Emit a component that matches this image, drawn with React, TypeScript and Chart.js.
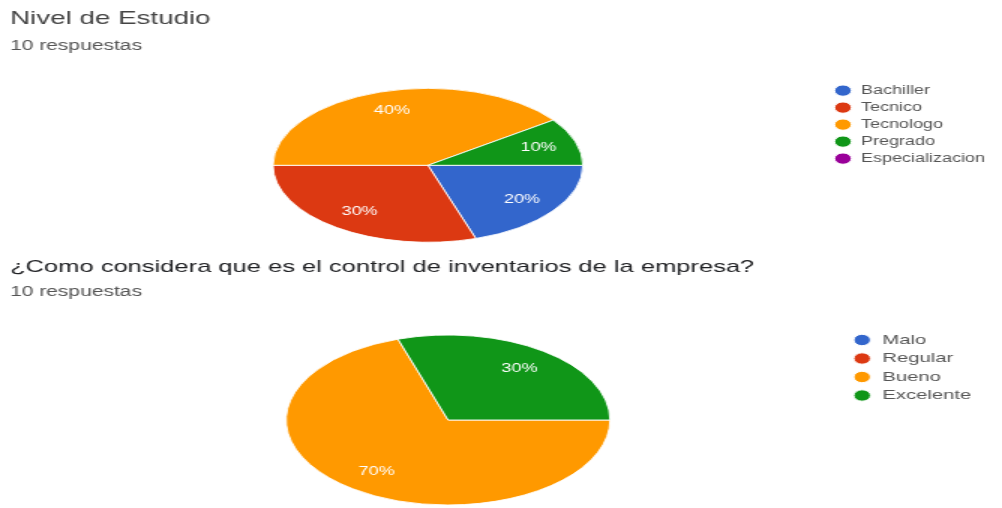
import React, { useEffect, useRef } from 'react';
import { Chart, registerables, layouts } from 'chart.js';

Chart.register(...registerables);

// ---------- data ----------
const studyTitle = 'Nivel de Estudio';
const studySubtitle = '10 respuestas';
const studyLabels = ['Bachiller', 'Tecnico', 'Tecnologo', 'Pregrado', 'Especializacion'];
const studyValues = [2, 3, 4, 1, 0];
const studyColors = ['#3366cc', '#dc3912', '#ff9900', '#109618', '#990099'];

const controlTitle = '¿Como considera que es el control de inventarios de la empresa?';
const controlSubtitle = '10 respuestas';
const controlLabels = ['Malo', 'Regular', 'Bueno', 'Excelente'];
const controlValues = [0, 0, 7, 3];
const controlColors = ['#3366cc', '#dc3912', '#ff9900', '#109618'];

// ---------- layout ----------
const FAMILY = '"Liberation Sans", Arial, sans-serif';
const CANVAS_W = 668; // drawn width, stretched to 1002 by CSS
const PAGE_W = 1002;

type BlockCfg = {
  labels: string[];
  values: number[];
  colors: string[];
  title: string;
  subtitle: string;
  titleSize: number;
  titleColor: string;
  titlePad: { top: number; bottom: number };
  subPadBottom: number;
  padding: { left: number; right: number; top: number; bottom: number };
  spacer: number;
  radius: number;
  squash: number;
  legendSize: number;
};

function spacerPlugin(width: number) {
  const box: any = {
    position: 'left',
    weight: 0,
    fullSize: false,
    options: {},
    top: 0, left: 0, right: 0, bottom: 0, width: 0, height: 0,
    isHorizontal() { return false; },
    update(_maxW: number, maxH: number) {
      this.width = width;
      this.height = maxH;
    },
    draw() {},
  };
  return {
    id: 'leftSpacer',
    start(chart: any) { layouts.addBox(chart, box); },
    stop(chart: any) { layouts.removeBox(chart, box); },
  };
}

function ellipsePlugin(squash: number) {
  return {
    id: 'ellipsePie',
    beforeDatasetsDraw(chart: any) {
      const el = chart.getDatasetMeta(0).data[0];
      const ctx = chart.ctx;
      ctx.save();
      ctx.translate(el.x, el.y);
      ctx.scale(1, squash);
      ctx.translate(-el.x, -el.y);
    },
    afterDatasetsDraw(chart: any) {
      const ctx = chart.ctx;
      ctx.restore();
      const meta = chart.getDatasetMeta(0);
      const data = chart.data.datasets[0].data as number[];
      const total = data.reduce((a, b) => a + b, 0);
      ctx.save();
      ctx.fillStyle = '#ffffff';
      ctx.font = `12px ${FAMILY}`;
      ctx.textAlign = 'center';
      ctx.textBaseline = 'middle';
      meta.data.forEach((el: any, i: number) => {
        const v = data[i];
        if (!v) return;
        const p = el.getProps(['x', 'y', 'startAngle', 'endAngle', 'outerRadius'], true);
        const mid = (p.startAngle + p.endAngle) / 2;
        const r = p.outerRadius * 0.75;
        ctx.fillText(
          Math.round((v / total) * 100) + '%',
          p.x + Math.cos(mid) * r,
          p.y + Math.sin(mid) * r * squash
        );
      });
      ctx.restore();
    },
  };
}

function makeChart(canvas: HTMLCanvasElement, c: BlockCfg) {
  return new Chart(canvas, {
    type: 'pie',
    data: {
      labels: c.labels,
      datasets: [
        {
          data: c.values,
          backgroundColor: c.colors,
          borderColor: '#ffffff',
          borderWidth: 1,
          radius: c.radius,
          clip: false,
        } as any,
      ],
    },
    options: {
      responsive: false,
      animation: false,
      devicePixelRatio: 1,
      events: [],
      rotation: 90,
      layout: { padding: c.padding },
      plugins: {
        title: {
          display: true,
          text: c.title,
          align: 'start',
          color: c.titleColor,
          font: { family: FAMILY, size: c.titleSize, weight: 'normal' },
          padding: c.titlePad,
        },
        subtitle: {
          display: true,
          text: c.subtitle,
          align: 'start',
          color: '#555555',
          font: { family: FAMILY, size: 14, weight: 'normal' },
          padding: { top: 0, bottom: c.subPadBottom },
        },
        legend: {
          position: 'right',
          align: 'start',
          fullSize: false,
          labels: {
            usePointStyle: true,
            pointStyle: 'circle',
            boxWidth: c.legendSize,
            boxHeight: 8,
            padding: 5,
            color: '#555555',
            font: { family: FAMILY, size: c.legendSize },
          },
        },
        tooltip: { enabled: false },
      },
    } as any,
    plugins: [spacerPlugin(c.spacer), ellipsePlugin(c.squash)],
  });
}

export default function App() {
  const ref1 = useRef<HTMLCanvasElement>(null);
  const ref2 = useRef<HTMLCanvasElement>(null);

  useEffect(() => {
    const c1 = makeChart(ref1.current!, {
      labels: studyLabels,
      values: studyValues,
      colors: studyColors,
      title: studyTitle,
      subtitle: studySubtitle,
      titleSize: 18.5,
      titleColor: '#444444',
      titlePad: { top: 8, bottom: 8 },
      subPadBottom: 24.6,
      padding: { left: 6.7, right: 1.3, top: 0, bottom: 5 },
      spacer: 12.9,
      radius: 103.3,
      squash: 0.745,
      legendSize: 12,
    });
    const c2 = makeChart(ref2.current!, {
      labels: controlLabels,
      values: controlValues,
      colors: controlColors,
      title: controlTitle,
      subtitle: controlSubtitle,
      titleSize: 17,
      titleColor: '#202124',
      titlePad: { top: 6.8, bottom: 7 },
      subPadBottom: 27.25,
      padding: { left: 6.7, right: 10.45, top: 0, bottom: 0.25 },
      spacer: 27.7,
      radius: 108,
      squash: 0.787,
      legendSize: 13.5,
    });
    return () => {
      c1.destroy();
      c2.destroy();
    };
  }, []);

  return (
    <div
      style={{
        position: 'absolute',
        left: 0,
        top: 0,
        width: PAGE_W + 'px',
        height: '508px',
        overflow: 'hidden',
        background: '#ffffff',
      }}
    >
      <canvas
        ref={ref1}
        width={CANVAS_W}
        height={256}
        style={{ position: 'absolute', left: 0, top: 0, width: PAGE_W + 'px', height: '256px' }}
      />
      <canvas
        ref={ref2}
        width={CANVAS_W}
        height={262}
        style={{ position: 'absolute', left: 0, top: '250px', width: PAGE_W + 'px', height: '262px' }}
      />
    </div>
  );
}
